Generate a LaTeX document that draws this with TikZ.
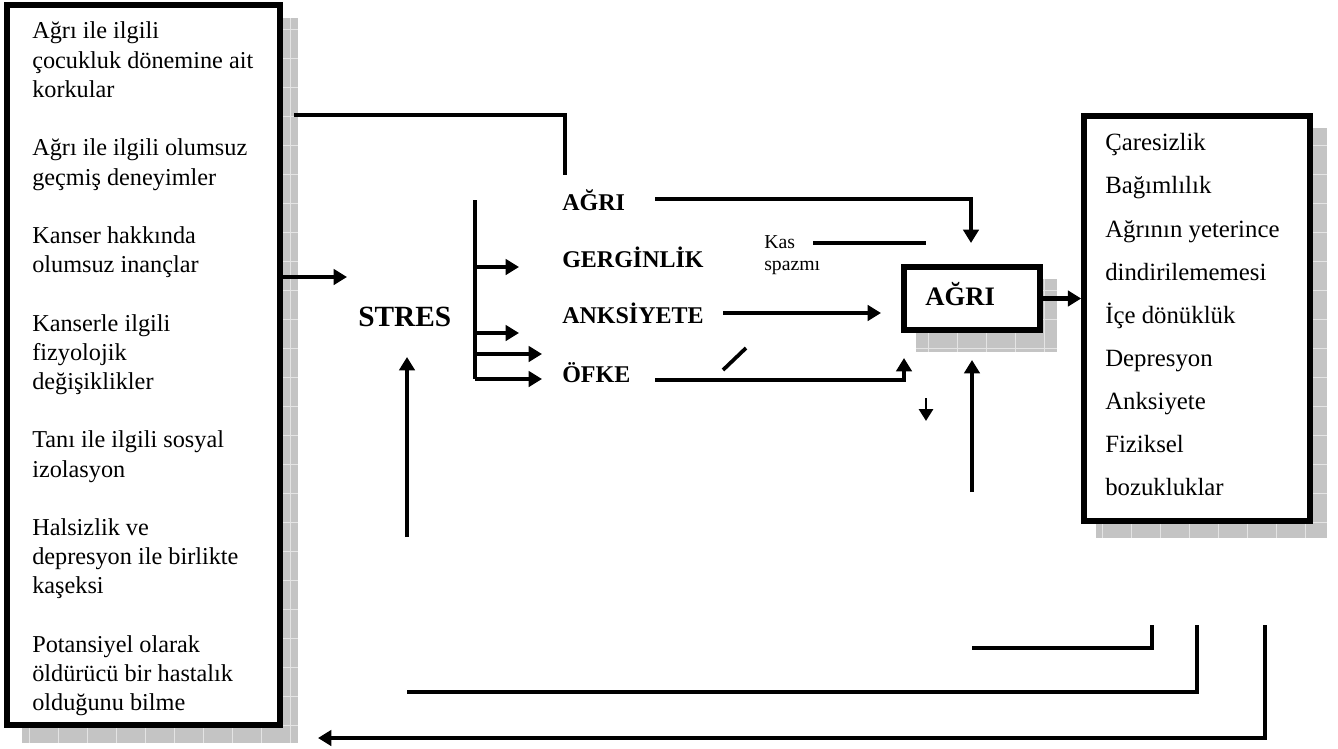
\documentclass[tikz,border=0pt]{standalone}
\usepackage{fontspec}
\setmainfont{Liberation Serif}
\newfontfamily\txtfont{Liberation Serif}
\usetikzlibrary{arrows.meta,fit}
\definecolor{shadowgray}{RGB}{196,196,196}
\definecolor{gridgray}{RGB}{228,228,228}
\tikzset{
  boxtxt/.style={font=\txtfont\fontsize{18.2}{20}\selectfont, anchor=base west, inner sep=0pt},
  rboxtxt/.style={font=\txtfont\fontsize{18.6}{20}\selectfont, anchor=base west, inner sep=0pt},
  lbl/.style={font=\txtfont\bfseries\fontsize{18}{20}\selectfont, anchor=base west, inner sep=0pt},
  smalltxt/.style={font=\txtfont\fontsize{14.8}{16}\selectfont, anchor=base west, inner sep=0pt},
  thinln/.style={line width=2.8pt},
  thickln/.style={line width=3.6pt},
  arr/.style={-{Triangle[length=10pt,width=11.5pt]}},
  smallarr/.style={-{Triangle[length=9pt,width=10.5pt]}},
  framebox/.style={draw=black, fill=white, inner sep=0pt},
  shadowfill/.style={fill=shadowgray},
  gridln/.style={draw=gridgray, line width=0.6pt},
}
\begin{document}
\begin{tikzpicture}[x=0.75pt,y=-0.75pt]
\useasboundingbox (0,0) rectangle (1338,749);

% ---------- left box ----------
\fill[shadowfill] (22,18) rectangle (298,743);
\begin{scope}
  \clip (22,18) rectangle (298,743);
  \draw[gridln, step=21.75pt] (22,743) grid (298,18);
\end{scope}
\node[framebox, line width=5.2pt, fit={(7,5) (280,725)}] (leftbox) {};

\node[boxtxt] (l1)  at (32,39)    {Ağrı ile ilgili};
\node[boxtxt] (l2)  at (32,68.2)  {çocukluk dönemine ait};
\node[boxtxt] (l3)  at (32,97.4)  {korkular};
\node[boxtxt] (l4)  at (32,155.8) {Ağrı ile ilgili olumsuz};
\node[boxtxt] (l5)  at (32,185)   {geçmiş deneyimler};
\node[boxtxt] (l6)  at (32,243.4) {Kanser hakkında};
\node[boxtxt] (l7)  at (32,272.6) {olumsuz inançlar};
\node[boxtxt] (l8)  at (32,331)   {Kanserle ilgili};
\node[boxtxt] (l9)  at (32,360.2) {fizyolojik};
\node[boxtxt] (l10) at (32,389.4) {değişiklikler};
\node[boxtxt] (l11) at (32,447.8) {Tanı ile ilgili sosyal};
\node[boxtxt] (l12) at (32,477)   {izolasyon};
\node[boxtxt] (l13) at (32,535.4) {Halsizlik ve};
\node[boxtxt] (l14) at (32,564.6) {depresyon ile birlikte};
\node[boxtxt] (l15) at (32,593.8) {kaşeksi};
\node[boxtxt] (l16) at (32,652.2) {Potansiyel olarak};
\node[boxtxt] (l17) at (32,681.4) {öldürücü bir hastalık};
\node[boxtxt] (l18) at (32,710.6) {olduğunu bilme};

% ---------- right box ----------
\fill[shadowfill] (1096,128) rectangle (1327,538);
\begin{scope}
  \clip (1096,128) rectangle (1327,538);
  \draw[gridln, step=21.75pt] (1096,538) grid (1327,128);
\end{scope}
\node[framebox, line width=4.2pt, fit={(1084,116) (1310,521)}] (rightbox) {};

\node[rboxtxt] (r1) at (1105,150) {Çaresizlik};
\node[rboxtxt] (r2) at (1105,193) {Bağımlılık};
\node[rboxtxt] (r3) at (1105,237) {Ağrının yeterince};
\node[rboxtxt] (r4) at (1105,280) {dindirilememesi};
\node[rboxtxt] (r5) at (1105,323) {İçe dönüklük};
\node[rboxtxt] (r6) at (1105,366) {Depresyon};
\node[rboxtxt] (r7) at (1105,409) {Anksiyete};
\node[rboxtxt] (r8) at (1105,452) {Fiziksel};
\node[rboxtxt] (r9) at (1105,495) {bozukluklar};

% ---------- AĞRI box ----------
\fill[shadowfill] (916,279) rectangle (1057,352);
\begin{scope}
  \clip (916,279) rectangle (1057,352);
  \draw[gridln, step=21.75pt] (916,352) grid (1057,279);
\end{scope}
\node[framebox, line width=4.2pt, fit={(904,267) (1040,330)}] (agribox) {};
\node[font=\txtfont\bfseries\fontsize{20}{22}\selectfont, anchor=base west, inner sep=0pt] (agritxt) at (925,305) {AĞRI};

% ---------- labels ----------
\node[font=\txtfont\bfseries\fontsize{22}{24}\selectfont, anchor=base west, inner sep=0pt] (stres) at (358,326) {STRES};
\node[lbl] (agri)  at (562,210) {AĞRI};
\node[lbl] (gerg)  at (562,267) {GERGİNLİK};
\node[lbl] (anks)  at (562,323) {ANKSİYETE};
\node[lbl] (ofke)  at (562,382) {ÖFKE};
\node[smalltxt] (kas) at (764,248) {Kas};
\node[smalltxt] (spazm) at (764,270) {spazmı};

% ---------- coordinates ----------
\coordinate (topS) at (294,115);
\coordinate (topE) at (565,175);
\coordinate (inS) at (283,277);
\coordinate (inE) at (347,277);
\coordinate (brTop) at (475,200);
\coordinate (brBot) at (475,379);
\coordinate (ofkeTip) at (542,379);
\coordinate (agS) at (655,199);
\coordinate (agE) at (971,243);
\coordinate (kasS) at (813,243);
\coordinate (kasE) at (926,243);
\coordinate (anS) at (723,313);
\coordinate (anE) at (881,313);
\coordinate (ofS) at (655,380);
\coordinate (ofE) at (904,358);
\coordinate (slA) at (723,370);
\coordinate (slB) at (746,348);
\coordinate (dnS) at (926,398);
\coordinate (dnE) at (926,421);
\coordinate (upS) at (972,492);
\coordinate (upE) at (972,360);
\coordinate (stS) at (407,537);
\coordinate (stE) at (407,357);
\coordinate (b1S) at (972,648);
\coordinate (b1E) at (1152,625);
\coordinate (b2S) at (407,692);
\coordinate (b2E) at (1197,625);
\coordinate (b3S) at (1265,625);
\coordinate (b3E) at (318,738);

% ---------- connectors ----------
\draw[thickln] (topS) -| (topE);
\draw[thickln, arr] (inS) -- (inE);

\draw[thinln] (brTop) -- (brBot);
\draw[thinln, arr] (475,267) -- (519,267);
\draw[thinln, arr] (475,333) -- (519,333);
\draw[thinln, arr] (475,354) -- (542,354);
\draw[thinln, arr] (brBot) -- (ofkeTip);

\draw[thinln, arr] (agS) -| (agE);
\draw[thinln] (kasS) -- (kasE);
\draw[thinln, arr] (anS) -- (anE);
\draw[thinln, arr] (ofS) -| (ofE);
\draw[thinln] (slA) -- (slB);
\draw[line width=2.2pt, smallarr] (dnS) -- (dnE);
\draw[thinln, arr] (upS) -- (upE);
\draw[thickln, arr] (agribox.east) -- (rightbox.west |- agribox.east);

\draw[thinln, arr] (stS) -- (stE);

\draw[thickln] (b1S) -| (b1E);
\draw[thickln] (b2S) -| (b2E);
\draw[thickln, arr] (b3S) |- (b3E);
\end{tikzpicture}
\end{document}
